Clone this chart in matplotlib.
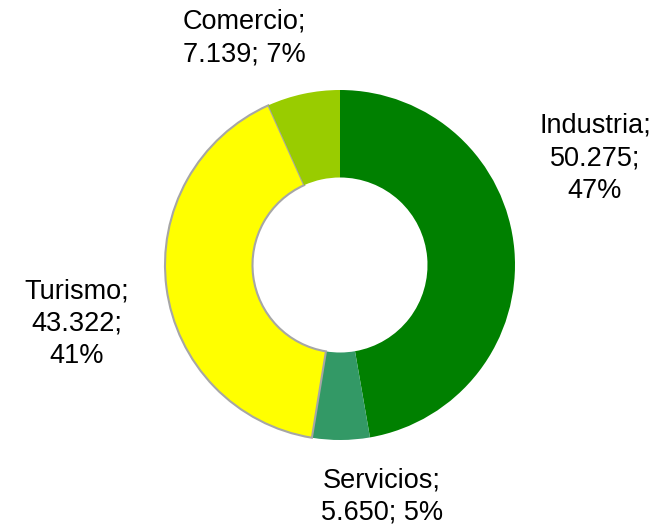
import matplotlib.pyplot as plt

# Data
sectors = ['Industria', 'Servicios', 'Turismo', 'Comercio']
values = [50275, 5650, 43322, 7139]
percents = ['47%', '5%', '41%', '7%']
value_labels = ['50.275', '5.650', '43.322', '7.139']
colors = ['#008000', '#339966', '#FFFF00', '#99CC00']

# label texts and where they sit (pie radius = 1)
label_texts = [
    f'{sectors[0]};\n{value_labels[0]};\n{percents[0]}',
    f'{sectors[1]};\n{value_labels[1]}; {percents[1]}',
    f'{sectors[2]};\n{value_labels[2]};\n{percents[2]}',
    f'{sectors[3]};\n{value_labels[3]}; {percents[3]}',
]
label_pos = [(1.457, 0.61), (0.24, -1.322), (-1.503, -0.337), (-0.549, 1.297)]

fig = plt.figure(figsize=(6.6, 5.29), dpi=100)
ax = fig.add_axes([0, 0, 1, 1])

wedges, _ = ax.pie(values, colors=colors, startangle=90, counterclock=False,
                   radius=1, wedgeprops=dict(width=0.5, linewidth=0))
# only the yellow slice has a grey outline
wedges[2].set_edgecolor('#A6A6A6')
wedges[2].set_linewidth(1.5)

for txt, (x, y) in zip(label_texts, label_pos):
    ax.text(x, y, txt, ha='center', va='center', multialignment='center',
            fontsize=19.5, family='Liberation Sans', linespacing=1.32)

ax.set_xlim(-340 / 175, 320 / 175)
ax.set_ylim(-264 / 175, 265 / 175)
ax.set_aspect('auto')
ax.axis('off')

fig.savefig('out.png', dpi=100)
